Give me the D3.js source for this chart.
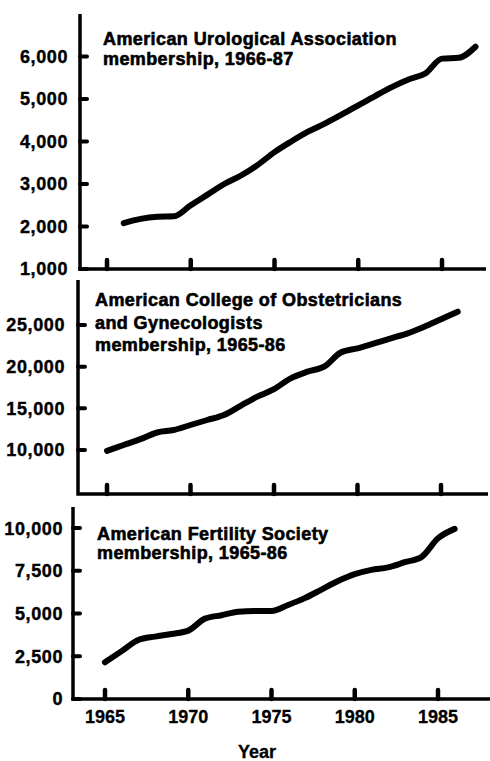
<!DOCTYPE html>
<html>
<head>
<meta charset="utf-8">
<script src="https://cdn.jsdelivr.net/npm/d3@7"></script>
<style>
  body { margin: 0; background: #fff; }
  svg { display: block; font-family: "Liberation Sans", Arial, sans-serif; font-weight: bold; }
</style>
</head>
<body>
<svg id="chart" width="490" height="761"></svg>
<script>
// Data
const auaYears = d3.range(1966, 1988);
const auaMembers = [2080, 2180, 2230, 2240, 2500, 2750, 3000, 3200, 3450, 3750, 4000,
                    4230, 4420, 4630, 4850, 5070, 5280, 5460, 5600, 5950, 5970, 6230];

const acogYears = d3.range(1965, 1987);
const acogMembers = [9900, 10600, 11300, 12100, 12400, 13000, 13600, 14200, 15300, 16400, 17300,
                     18600, 19400, 20000, 21700, 22200, 22800, 23400, 24000, 24800, 25700, 26600];

const afsYears = d3.range(1965, 1987);
const afsMembers = [2150, 2800, 3450, 3650, 3800, 4000, 4700, 4900, 5100, 5150, 5150,
                    5500, 5900, 6400, 6900, 7300, 7550, 7700, 8000, 8300, 9400, 9950];

const yearTicks = [1965, 1970, 1975, 1980, 1985];
const auaTicks = [1000, 2000, 3000, 4000, 5000, 6000];
const acogTicks = [10000, 15000, 20000, 25000];
const afsTicks = [0, 2500, 5000, 7500, 10000];

const auaTitle = ['American Urological Association', 'membership, 1966-87'];
const acogTitle = ['American College of Obstetricians', 'and Gynecologists', 'membership, 1965-86'];
const afsTitle = ['American Fertility Society', 'membership, 1965-86'];

// Panel layout
const panels = [
  { years: auaYears, values: auaMembers, ticks: auaTicks, title: auaTitle,
    left: 80, right: 486, top: 14, bottom: 269, x0: 107, x1: 442,
    yDomain: [1000, 7000], labelRight: 68, titleX: 103, titleY: 45, titleGap: 20 },
  { years: acogYears, values: acogMembers, ticks: acogTicks, title: acogTitle,
    left: 78, right: 488, top: 280, bottom: 494, x0: 107, x1: 441,
    yDomain: [4720, 30400], labelRight: 65, titleX: 95, titleY: 306, titleGap: 22.5 },
  { years: afsYears, values: afsMembers, ticks: afsTicks, title: afsTitle,
    left: 73, right: 490, top: 507, bottom: 699, x0: 105, x1: 438,
    yDomain: [0, 11230], labelRight: 63, titleX: 97, titleY: 540, titleGap: 19, showYears: true }
];

const svg = d3.select('#chart');

panels.forEach(p => {
  const x = d3.scaleLinear().domain([1965, 1985]).range([p.x0, p.x1]);
  const y = d3.scaleLinear().domain(p.yDomain).range([p.bottom, p.top]);
  const g = svg.append('g');

  // axes frame
  g.append('path')
    .attr('d', `M${p.left},${p.top}V${p.bottom}H${p.right}`)
    .attr('fill', 'none')
    .attr('stroke', '#000')
    .attr('stroke-width', 3.5);

  // y ticks (pointing inward) + labels
  g.selectAll('.ytick')
    .data(p.ticks)
    .enter().append('line')
    .attr('x1', p.left)
    .attr('x2', p.left + 7)
    .attr('y1', d => y(d))
    .attr('y2', d => y(d))
    .attr('stroke', '#000')
    .attr('stroke-width', 4)
    .attr('stroke-linecap', 'round');

  g.selectAll('.ylabel')
    .data(p.ticks)
    .enter().append('text')
    .attr('x', p.labelRight)
    .attr('y', d => y(d))
    .attr('dy', '0.36em')
    .attr('text-anchor', 'end')
    .attr('font-size', 18)
    .attr('letter-spacing', 0.6)
    .attr('stroke', '#000')
    .attr('stroke-width', 0.4)
    .text(d => d3.format(',')(d));

  // x ticks (upward bumps)
  g.selectAll('.xtick')
    .data(yearTicks)
    .enter().append('line')
    .attr('x1', d => x(d))
    .attr('x2', d => x(d))
    .attr('y1', p.bottom)
    .attr('y2', p.bottom - 9)
    .attr('stroke', '#000')
    .attr('stroke-width', 4.5)
    .attr('stroke-linecap', 'round');

  if (p.showYears) {
    g.selectAll('.xlabel')
      .data(yearTicks)
      .enter().append('text')
      .attr('x', d => x(d))
      .attr('y', p.bottom + 24)
      .attr('text-anchor', 'middle')
      .attr('font-size', 18)
      .attr('stroke', '#000')
      .attr('stroke-width', 0.3)
      .text(d => d);
  }

  // title
  g.selectAll('.title')
    .data(p.title)
    .enter().append('text')
    .attr('x', p.titleX)
    .attr('y', (d, i) => p.titleY + i * p.titleGap)
    .attr('font-size', 18)
    .attr('letter-spacing', 0.4)
    .attr('stroke', '#000')
    .attr('stroke-width', 0.6)
    .text(d => d);

  // membership line
  const line = d3.line()
    .x((d, i) => x(p.years[i]))
    .y(d => y(d))
    .curve(d3.curveMonotoneX);

  g.append('path')
    .datum(p.values)
    .attr('d', line)
    .attr('fill', 'none')
    .attr('stroke', '#000')
    .attr('stroke-width', 6)
    .attr('stroke-linejoin', 'round')
    .attr('stroke-linecap', 'round');
});

svg.append('text')
  .attr('x', 257)
  .attr('y', 758)
  .attr('text-anchor', 'middle')
  .attr('font-size', 18)
  .attr('stroke', '#000')
  .attr('stroke-width', 0.3)
  .text('Year');
</script>
</body>
</html>
